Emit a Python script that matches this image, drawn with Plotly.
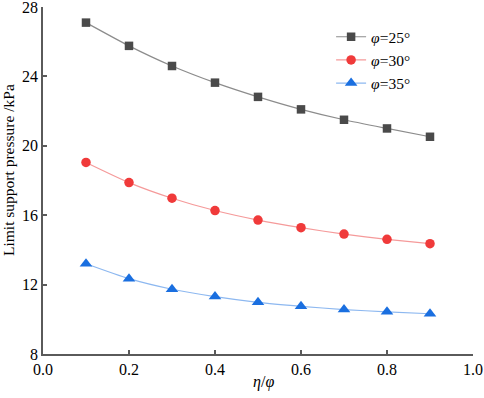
import plotly.graph_objects as go

x_vals = [0.1, 0.2, 0.3, 0.4, 0.5, 0.6, 0.7, 0.8, 0.9]
phi25 = [27.1, 25.76, 24.6, 23.64, 22.82, 22.1, 21.5, 21.0, 20.52]
phi30 = [19.04, 17.88, 16.98, 16.27, 15.72, 15.28, 14.91, 14.61, 14.36]
phi35 = [13.2, 12.34, 11.73, 11.31, 10.98, 10.75, 10.56, 10.43, 10.32]
names = ["<i>φ</i>=25°", "<i>φ</i>=30°", "<i>φ</i>=35°"]

fig = go.Figure()
styles = [
    (phi25, "square", 8.5, "#4a4a4a", "#8c8c8c"),
    (phi30, "circle", 9.5, "#f03a3a", "#f59a9a"),
    (phi35, "triangle-up", 11, "#1a6fe0", "#8db8f0"),
]
for (ys, sym, sz, mc, lc), nm in zip(styles, names):
    fig.add_trace(go.Scatter(
        x=x_vals, y=ys, name=nm, mode="lines+markers",
        line=dict(color=lc, width=1.2, shape="spline", smoothing=0.6),
        marker=dict(symbol=sym, size=sz, color=mc, line=dict(width=0)),
    ))

L, R, T, B = 43, 473, 7, 354
PW, PH = R - L, B - T
font = "Liberation Serif, Times New Roman, serif"
fig.update_layout(
    width=484, height=398,
    margin=dict(l=L, r=484 - R, t=T, b=398 - B, autoexpand=False),
    paper_bgcolor="white", plot_bgcolor="white",
    font=dict(family=font, size=16, color="black"),
    showlegend=True,
    legend=dict(x=0.67, y=0.962, xanchor="left", yanchor="top",
                bgcolor="rgba(0,0,0,0)", font=dict(size=15.5),
                tracegroupgap=0),
    annotations=[
        dict(text="Limit support pressure /kPa", textangle=-90,
             xref="paper", yref="paper", x=(8 - L) / PW, xanchor="center",
             y=(B - 170) / PH, yanchor="middle", showarrow=False,
             font=dict(size=15.5)),
        dict(text="<i>η</i>/<i>φ</i>",
             xref="paper", yref="paper", x=(263 - L) / PW, xanchor="center",
             y=(B - 382) / PH, yanchor="middle", showarrow=False,
             font=dict(size=16)),
    ],
)
fig.update_xaxes(
    range=[0, 1], dtick=0.2, tickformat=".1f", automargin=False,
    showline=True, linecolor="#5a5a5a", linewidth=1.5,
    ticks="inside", ticklen=4, tickcolor="#5a5a5a", tickwidth=1.5,
    showgrid=False, zeroline=False, ticklabeloverflow="allow",
)
fig.update_yaxes(
    range=[8, 28], dtick=4, automargin=False,
    showline=True, linecolor="#5a5a5a", linewidth=1.5,
    ticks="inside", ticklen=4, tickcolor="#5a5a5a", tickwidth=1.5,
    showgrid=False, zeroline=False, ticklabeloverflow="allow",
)
fig.write_html("out.html", config={"displayModeBar": False},
               post_script="document.body.style.margin='0';")
